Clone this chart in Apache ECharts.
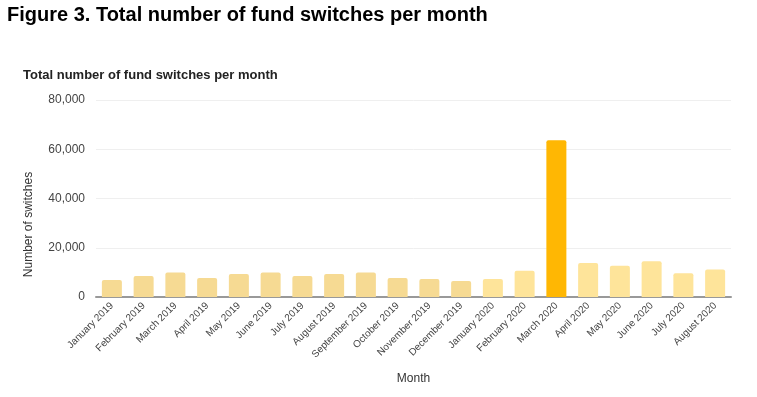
<!DOCTYPE html>
<html>
<head>
<meta charset="utf-8">
<script src="https://cdn.jsdelivr.net/npm/echarts@6/dist/echarts.min.js"></script>
<style>
  html, body { margin: 0; padding: 0; background: #fff; }
  #main { width: 757px; height: 397px; }
</style>
</head>
<body>
<div id="main"></div>
<script>
// months shown on the x axis
var months = [
  'January 2019', 'February 2019', 'March 2019', 'April 2019', 'May 2019',
  'June 2019', 'July 2019', 'August 2019', 'September 2019', 'October 2019',
  'November 2019', 'December 2019', 'January 2020', 'February 2020', 'March 2020',
  'April 2020', 'May 2020', 'June 2020', 'July 2020', 'August 2020'
];
// number of fund switches
var switches = [
  6900, 8500, 10000, 7700, 9300,
  10000, 8500, 9300, 10000, 7700,
  7300, 6500, 7300, 10700, 63700,
  13800, 12700, 14500, 9600, 11200
];
var yTicks = [0, 20000, 40000, 60000, 80000];

var c2019 = '#f6da93';
var c2020 = '#fee49a';
var cPeak = '#ffb703';

var chart = echarts.init(document.getElementById('main'), null, { renderer: 'canvas' });

var barData = switches.map(function (v, i) {
  var col = months[i].indexOf('2019') >= 0 ? c2019 : c2020;
  if (months[i] === 'March 2020') col = cPeak;
  return { value: v, itemStyle: { color: col } };
});

var option = {
  animation: false,
  backgroundColor: '#fff',
  textStyle: { fontFamily: 'Liberation Sans, Arial, sans-serif' },
  title: [{
    text: 'Figure 3. Total number of fund switches per month',
    left: 2,
    top: 0,
    textStyle: { fontSize: 20, fontWeight: 'bold', color: '#000' }
  }, {
    text: 'Total number of fund switches per month',
    left: 18,
    top: 64,
    textStyle: { fontSize: 13, fontWeight: 'bold', color: '#222' }
  }],
  grid: {
    left: 96,
    right: 26,
    top: 100,
    bottom: 100,
    containLabel: false
  },
  xAxis: {
    type: 'category',
    data: months,
    name: 'Month',
    nameLocation: 'middle',
    nameGap: 76,
    nameTextStyle: { fontSize: 12, color: '#333' },
    axisTick: { show: false },
    axisLine: { lineStyle: { color: '#999', width: 2 } },
    axisLabel: {
      interval: 0,
      rotate: 45,
      fontSize: 10,
      color: '#444',
      margin: 7
    }
  },
  yAxis: {
    type: 'value',
    min: yTicks[0],
    max: yTicks[yTicks.length - 1],
    interval: yTicks[1] - yTicks[0],
    name: 'Number of switches',
    nameLocation: 'middle',
    nameGap: 61,
    nameTextStyle: { fontSize: 12, color: '#333', padding: [0, 52, 0, 0] },
    axisLine: { show: false },
    axisTick: { show: false },
    splitLine: { lineStyle: { color: '#efefef' } },
    axisLabel: {
      fontSize: 12,
      color: '#444',
      margin: 11,
      formatter: function (v) { return v.toLocaleString('en-US'); }
    }
  },
  series: [{
    type: 'bar',
    data: barData,
    barCategoryGap: '37%',
    itemStyle: { borderRadius: [2, 2, 0, 0] }
  }]
};

chart.setOption(option);
</script>
</body>
</html>
